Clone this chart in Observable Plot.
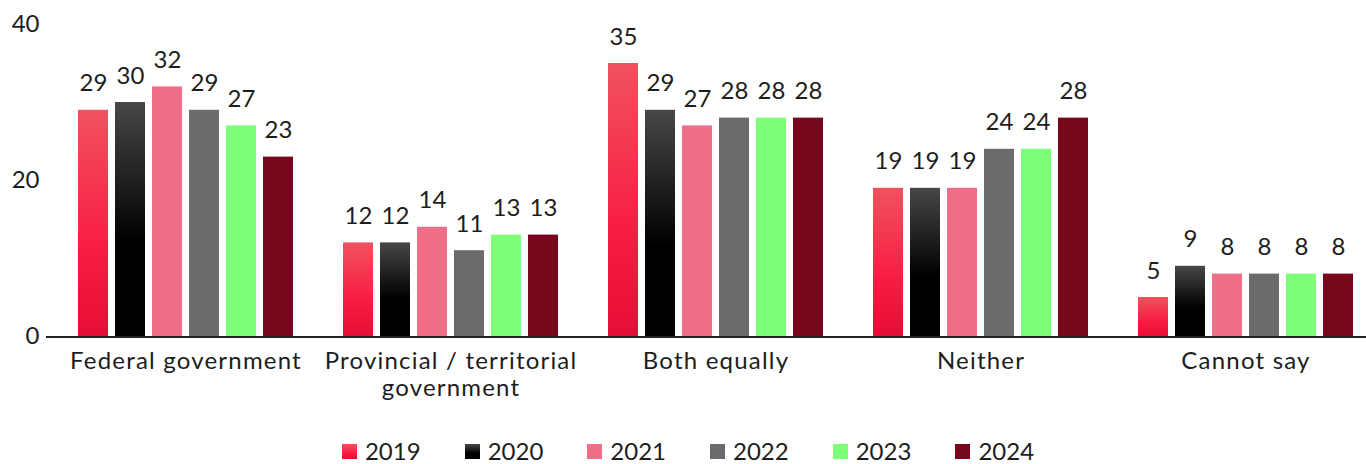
<!DOCTYPE html>
<html>
<head>
<meta charset="utf-8">
<script src="https://cdn.jsdelivr.net/npm/d3@7"></script>
<script src="https://cdn.jsdelivr.net/npm/@observablehq/plot@0.6"></script>
<style>
  html, body { margin: 0; padding: 0; background: #fff; overflow: hidden; }
  #chart { width: 1366px; height: 410px; overflow: hidden; }
  #legend { display: flex; justify-content: center; gap: 44px; margin-top: 27px; padding-left: 10px;
    font-family: Lato, "Open Sans", sans-serif; font-size: 24px; line-height: 28px; color: #1d1d1d; }
  #legend .item { display: flex; align-items: center; gap: 8px; }
  #legend .sw { display: inline-block; width: 15px; height: 15px; }
</style>
</head>
<body>
<div id="chart"></div>
<div id="legend"></div>
<script>
const categories = ["Federal government", "Provincial / territorial government", "Both equally", "Neither", "Cannot say"];
const categoryLabels = ["Federal government", "Provincial / territorial\ngovernment", "Both equally", "Neither", "Cannot say"];
const years = ["2019", "2020", "2021", "2022", "2023", "2024"];
const v2019 = [29, 12, 35, 19, 5];
const v2020 = [30, 12, 29, 19, 9];
const v2021 = [32, 14, 27, 19, 8];
const v2022 = [29, 11, 28, 24, 8];
const v2023 = [27, 13, 28, 24, 8];
const v2024 = [23, 13, 28, 28, 8];
const yTicks = [0, 20, 40];

const series = [v2019, v2020, v2021, v2022, v2023, v2024];
const data = [];
categories.forEach((c, i) => {
  years.forEach((y, j) => data.push({category: c, year: y, value: series[j][i]}));
});

const fills = ["url(#g2019)", "url(#g2020)", "#EE6F87", "#6A6B6D", "#7DFF7A", "#78071D"];
const legendFills = [
  "linear-gradient(#F0525F, #F81E42 60%, #E50E36)",
  "linear-gradient(#474747, #000 60%, #000)",
  "#EE6F87", "#6A6B6D", "#7DFF7A", "#78071D"
];

const chart = Plot.plot({
  width: 1366,
  height: 410,
  marginTop: 24,
  marginBottom: 74,
  marginLeft: 53,
  marginRight: -12,
  style: {fontFamily: "Lato, 'Open Sans', sans-serif", fontSize: "24px", color: "#1d1d1d", background: "#fff"},
  fx: {domain: categories, paddingInner: 0.16, paddingOuter: 0.08, label: null},
  x: {domain: years, paddingInner: 0.18, paddingOuter: 0.09, axis: null},
  y: {domain: [0, 40], label: null},
  color: {domain: years, range: fills},
  marks: [
    Plot.axisY({ticks: yTicks, tickSize: 0, tickPadding: 35, label: null, fontSize: 24}),
    Plot.axisFx({anchor: "bottom", tickSize: 0, tickPadding: 14, label: null, fontSize: 24, lineHeight: 1.1,
      tickFormat: d => categoryLabels[categories.indexOf(d)]}),
    Plot.barY(data, {fx: "category", x: "year", y: "value", fill: "year"}),
    Plot.text(data, {fx: "category", x: "year", y: "value", text: d => String(d.value),
      lineAnchor: "bottom", dy: -19, fontSize: 24, fill: "#1d1d1d"}),
    Plot.ruleY([0], {stroke: "#222", strokeWidth: 2, shapeRendering: "crispEdges", insetLeft: -28, insetRight: -28})
  ]
});

const svg = d3.select(chart);
svg.selectAll("g[aria-label='fx-axis tick label']").style("letter-spacing", "1.2px");
const defs = svg.insert("defs", ":first-child");
const g1 = defs.append("linearGradient").attr("id", "g2019").attr("x1", 0).attr("y1", 0).attr("x2", 0).attr("y2", 1);
g1.append("stop").attr("offset", "0%").attr("stop-color", "#F0525F");
g1.append("stop").attr("offset", "60%").attr("stop-color", "#F81E42");
g1.append("stop").attr("offset", "100%").attr("stop-color", "#E50E36");
const g2 = defs.append("linearGradient").attr("id", "g2020").attr("x1", 0).attr("y1", 0).attr("x2", 0).attr("y2", 1);
g2.append("stop").attr("offset", "0%").attr("stop-color", "#474747");
g2.append("stop").attr("offset", "60%").attr("stop-color", "#000000");
g2.append("stop").attr("offset", "100%").attr("stop-color", "#000000");

document.getElementById("chart").appendChild(chart);

const legend = document.getElementById("legend");
years.forEach((y, i) => {
  const item = document.createElement("div");
  item.className = "item";
  const sw = document.createElement("span");
  sw.className = "sw";
  sw.style.background = legendFills[i];
  const t = document.createElement("span");
  t.textContent = y;
  item.appendChild(sw);
  item.appendChild(t);
  legend.appendChild(item);
});
</script>
</body>
</html>
